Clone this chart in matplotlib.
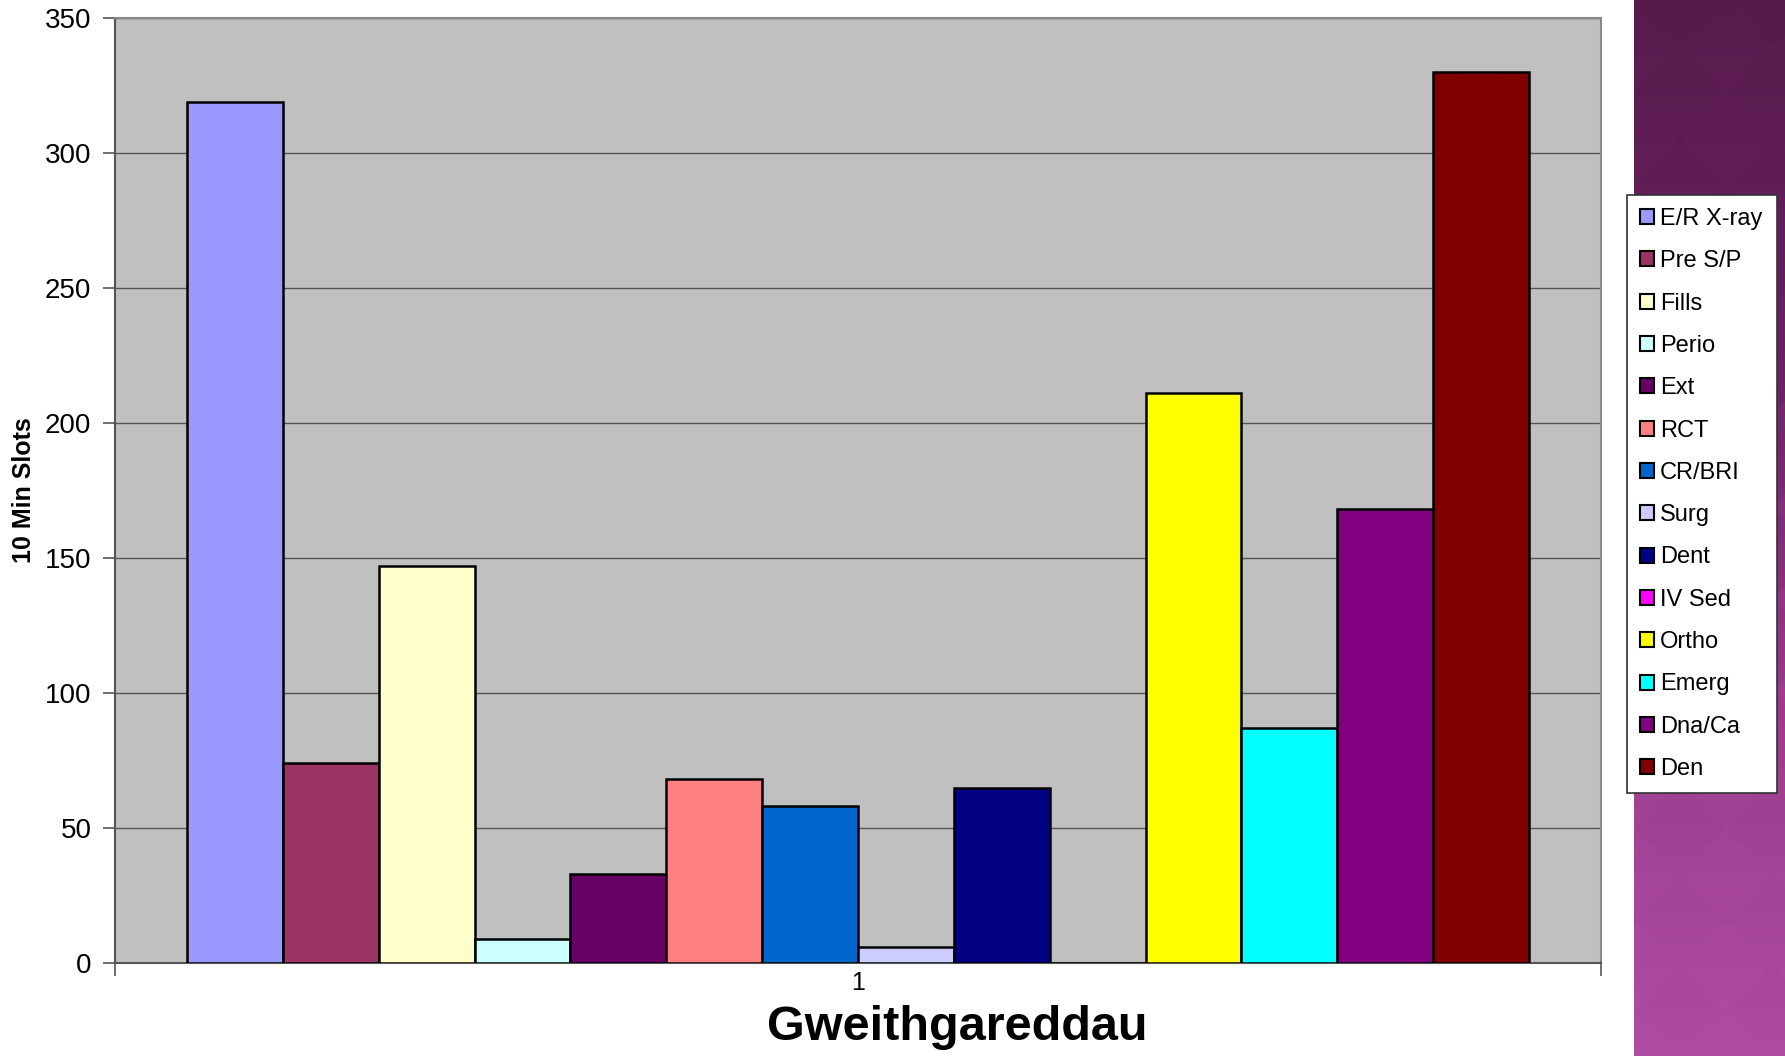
import numpy as np
import matplotlib
matplotlib.use("Agg")
import matplotlib.pyplot as plt
from matplotlib.colors import LinearSegmentedColormap

plt.rcParams['font.family'] = ['Liberation Sans', 'DejaVu Sans']

# ---------- data ----------
series = ["E/R X-ray", "Pre S/P", "Fills", "Perio", "Ext", "RCT", "CR/BRI",
          "Surg", "Dent", "IV Sed", "Ortho", "Emerg", "Dna/Ca", "Den"]
values = [319, 74, 147, 9, 33, 68, 58, 6, 65, 0, 211, 87, 168, 330]
colors = ["#9999FF", "#993366", "#FFFFCC", "#CCFFFF", "#660066", "#FF8080",
          "#0066CC", "#CCCCFF", "#000080", "#FF00FF", "#FFFF00", "#00FFFF",
          "#800080", "#800000"]
category = "1"
yticks = [0, 50, 100, 150, 200, 250, 300, 350]

fig = plt.figure(figsize=(17.85, 10.56), dpi=100)

# purple strip on the right (slide background)
bg = fig.add_axes([1634 / 1785, 0, 1 - 1634 / 1785, 1])
bg.set_axis_off()
ny, nx = 1056, 151
yy, xx = np.mgrid[0:ny, 0:nx]
grad = yy / (ny - 1)
s = 92.0
check = (np.floor((xx + yy) / s) + np.floor((xx - yy) / s)) % 2
shade = grad + 0.035 * check
cmap = LinearSegmentedColormap.from_list("strip", ["#561a4b", "#6a2260", "#9a3e8e", "#b04ca4"])
bg.imshow(shade, cmap=cmap, aspect="auto", vmin=0, vmax=1.035, interpolation="bilinear")

# main chart
ax = fig.add_axes([115 / 1785, 1 - 963 / 1056, (1601 - 115) / 1785, (963 - 18) / 1056])
ax.set_facecolor("#C0C0C0")

n = len(series)
w = 1.0
offsets = (np.arange(n) - (n - 1) / 2) * w
handles = []
for off, v, c, lab in zip(offsets, values, colors, series):
    b = ax.bar(off, v, width=w, color=c, edgecolor="black", linewidth=1.8,
               label=lab, zorder=3)
    handles.append(b)

half = n / 2 * w + 0.75 * w
ax.set_xlim(-half, half)
ax.set_ylim(0, 350)
ax.set_yticks(yticks)
ax.yaxis.grid(True, color="#555555", linewidth=1.0, zorder=1)
ax.set_axisbelow(True)

ax.set_xticks([-half, half], minor=False)
ax.set_xticklabels(["", ""])
ax.set_xticks([0], minor=True)
ax.set_xticklabels([category], minor=True)
ax.tick_params(axis="x", which="major", length=9, width=1.2, color="#555555", direction="out")
ax.tick_params(axis="x", which="minor", length=0, labelsize=18, pad=6)
ax.tick_params(axis="y", length=9, width=1.2, color="#555555", labelsize=20, pad=8)

for sp in ["left", "bottom"]:
    ax.spines[sp].set_color("#555555")
    ax.spines[sp].set_linewidth(1.5)
for sp in ["top", "right"]:
    ax.spines[sp].set_color("#888888")
    ax.spines[sp].set_linewidth(1.5)

ax.set_ylabel("10 Min Slots", fontsize=18, fontweight="bold")
ax.yaxis.set_label_coords(-(115 - 36) / (1601 - 115), 0.5)
fig.text(957 / 1785, 1 - 1027 / 1056, "Gweithgareddau", fontsize=35, fontweight="bold",
         ha="center", va="center")

leg = fig.legend(handles=handles, labels=series, loc="upper left",
                 bbox_to_anchor=(1627 / 1785, 1 - 784 / 1056, 150 / 1785, 589 / 1056),
                 mode="expand", fontsize=17, frameon=True, fancybox=False,
                 handlelength=0.6, handleheight=0.6, handletextpad=0.25,
                 labelspacing=0.86, borderpad=0.55, borderaxespad=0)
leg.get_frame().set_edgecolor("#333333")
leg.get_frame().set_linewidth(1.2)
leg.get_frame().set_alpha(1)
for p in leg.get_patches():
    p.set_linewidth(1.5)

fig.savefig("out.png", dpi=100)
